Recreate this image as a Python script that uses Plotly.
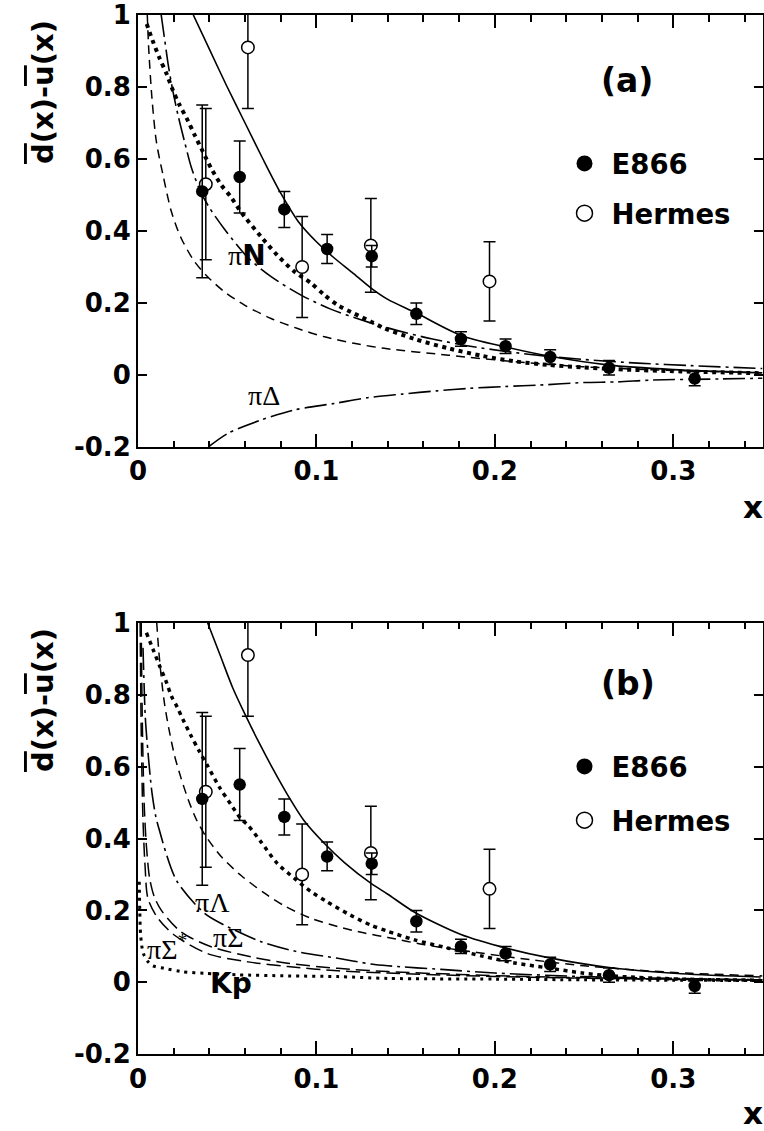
import plotly.graph_objects as go

# ---------------- data ----------------
e866_x = [0.036, 0.057, 0.082, 0.106, 0.131, 0.156, 0.181, 0.206, 0.231, 0.264, 0.312]
e866_y = [0.51, 0.55, 0.46, 0.35, 0.33, 0.17, 0.10, 0.08, 0.05, 0.02, -0.01]
e866_err = [0.24, 0.10, 0.05, 0.04, 0.03, 0.03, 0.02, 0.02, 0.02, 0.02, 0.02]

hermes_x = [0.038, 0.0616, 0.092, 0.1305, 0.197]
hermes_y = [0.53, 0.91, 0.30, 0.36, 0.26]
hermes_err = [0.21, 0.17, 0.14, 0.13, 0.11]

# panel (a) curves
a_solid_x = [0.031, 0.040, 0.050, 0.060, 0.070, 0.080, 0.090, 0.100, 0.110, 0.120, 0.131, 0.140,
             0.156, 0.181, 0.206, 0.231, 0.263, 0.30, 0.35]
a_solid_y = [1.0, 0.905, 0.80, 0.70, 0.60, 0.505, 0.425, 0.37, 0.325, 0.285, 0.24, 0.21,
             0.172, 0.11, 0.078, 0.052, 0.028, 0.015, 0.006]

a_dot_x = [0.0049, 0.0084, 0.0121, 0.0159, 0.0196, 0.0233, 0.028, 0.0317, 0.0364, 0.041, 0.0466,
           0.052, 0.057, 0.0597, 0.069, 0.078, 0.0877, 0.097, 0.1045, 0.112, 0.121, 0.1306, 0.138,
           0.155, 0.174, 0.193, 0.211, 0.23, 0.249, 0.268, 0.3045, 0.349]
a_dot_y = [0.975, 0.926, 0.88, 0.838, 0.79, 0.75, 0.706, 0.667, 0.62, 0.574, 0.528,
           0.495, 0.458, 0.44, 0.384, 0.333, 0.287, 0.255, 0.222, 0.194, 0.171, 0.148, 0.13,
           0.10, 0.074, 0.053, 0.038, 0.028, 0.021, 0.016, 0.010, 0.005]

a_dashdot_x = [0.013, 0.015, 0.017, 0.0195, 0.0225, 0.026, 0.030, 0.035, 0.040, 0.0485, 0.0616,
               0.0746, 0.0914, 0.108, 0.127, 0.145, 0.165, 0.19, 0.22, 0.25, 0.28, 0.31, 0.35]
a_dashdot_y = [1.0, 0.93, 0.86, 0.79, 0.72, 0.65, 0.575, 0.51, 0.465, 0.405, 0.326,
               0.273, 0.222, 0.183, 0.15, 0.124, 0.10, 0.077, 0.057, 0.043, 0.033, 0.026, 0.018]

a_dash_x = [0.0052, 0.006, 0.0078, 0.0103, 0.014, 0.0187, 0.0242, 0.0317, 0.039, 0.0485, 0.0597,
            0.0746, 0.0895, 0.1045, 0.121, 0.138, 0.174, 0.211, 0.249, 0.286, 0.349]
a_dash_y = [1.0, 0.907, 0.77, 0.648, 0.556, 0.454, 0.38, 0.315, 0.273, 0.231, 0.194,
            0.157, 0.129, 0.106, 0.088, 0.074, 0.055, 0.037, 0.023, 0.015, 0.006]

a_pidelta_x = [0.0394, 0.0504, 0.069, 0.0877, 0.110, 0.1287, 0.148, 0.1674, 0.186, 0.2056, 0.225,
               0.2495, 0.269, 0.288, 0.326, 0.35]
a_pidelta_y = [-0.2, -0.162, -0.125, -0.097, -0.079, -0.063, -0.053, -0.044, -0.037, -0.032, -0.028,
               -0.021, -0.019, -0.014, -0.011, -0.009]

# panel (b) curves
b_solid_x = [0.039, 0.046, 0.053, 0.060, 0.068, 0.076, 0.084, 0.093, 0.1045, 0.1157, 0.1306, 0.14,
             0.155, 0.181, 0.2065, 0.2306, 0.263, 0.3045, 0.349]
b_solid_y = [1.0, 0.91, 0.82, 0.745, 0.665, 0.59, 0.52, 0.45, 0.386, 0.333, 0.275, 0.245,
             0.195, 0.133, 0.095, 0.068, 0.042, 0.024, 0.015]

b_dot_x = [0.0047, 0.0084, 0.0121, 0.0159, 0.0187, 0.022, 0.0252, 0.0298, 0.0341, 0.039, 0.0457,
           0.052, 0.0578, 0.0616, 0.069, 0.078, 0.0877, 0.097, 0.106, 0.119, 0.1306, 0.14, 0.155,
           0.174, 0.193, 0.211, 0.23, 0.249, 0.268, 0.3045, 0.349]
b_dot_y = [0.972, 0.926, 0.88, 0.835, 0.796, 0.765, 0.731, 0.685, 0.645, 0.602, 0.542,
           0.495, 0.454, 0.437, 0.39, 0.331, 0.289, 0.252, 0.224, 0.187, 0.159, 0.142, 0.118,
           0.095, 0.073, 0.054, 0.040, 0.026, 0.017, 0.009, 0.006]

b_dash_x = [0.0105, 0.0115, 0.013, 0.015, 0.0175, 0.0205, 0.024, 0.028, 0.0325, 0.0375, 0.0466,
            0.0578, 0.0709, 0.082, 0.097, 0.112, 0.127, 0.14, 0.16, 0.19, 0.22, 0.25, 0.28, 0.31, 0.35]
b_dash_y = [1.0, 0.93, 0.85, 0.77, 0.70, 0.63, 0.57, 0.51, 0.455, 0.41, 0.35,
            0.297, 0.248, 0.213, 0.178, 0.155, 0.137, 0.125, 0.105, 0.083, 0.063, 0.046, 0.034, 0.025, 0.018]

b_pilambda_x = [0.0028, 0.0034, 0.0041, 0.0056, 0.0078, 0.0097, 0.0112, 0.0215, 0.0373, 0.0485, 0.069,
                0.0877, 0.112, 0.1306, 0.14, 0.17, 0.2, 0.25, 0.3, 0.35]
b_pilambda_y = [0.93, 0.829, 0.736, 0.639, 0.528, 0.468, 0.437, 0.284, 0.192, 0.159, 0.113,
                0.087, 0.067, 0.051, 0.046, 0.036, 0.026, 0.016, 0.011, 0.007]

b_pisigma_x = [0.0018, 0.0022, 0.0028, 0.0036, 0.0047, 0.0065, 0.009, 0.0131, 0.0242, 0.041, 0.0634,
               0.0839, 0.112, 0.14, 0.18, 0.22, 0.26, 0.30, 0.35]
b_pisigma_y = [1.0, 0.8, 0.62, 0.48, 0.38, 0.29, 0.24, 0.2, 0.14, 0.099, 0.071,
               0.053, 0.039, 0.030, 0.022, 0.016, 0.012, 0.009, 0.007]

b_pisigmastar_x = [0.0012, 0.0018, 0.0028, 0.004, 0.0056, 0.0112, 0.0205, 0.039, 0.0616, 0.0839,
                   0.112, 0.14, 0.18, 0.22, 0.26, 0.30, 0.35]
b_pisigmastar_y = [1.0, 0.7, 0.45, 0.32, 0.233, 0.178, 0.131, 0.08, 0.057, 0.044,
                   0.032, 0.026, 0.019, 0.014, 0.011, 0.008, 0.006]

b_kp_x = [0.0007, 0.001, 0.0015, 0.003, 0.006, 0.0084, 0.0149, 0.0242, 0.0373, 0.056, 0.084, 0.112,
          0.14, 0.2, 0.25, 0.3, 0.35]
b_kp_y = [0.28, 0.2, 0.13, 0.08, 0.055, 0.046, 0.039, 0.030, 0.025, 0.021, 0.018, 0.016,
          0.011, 0.009, 0.007, 0.006, 0.005]

x_tickvals = [0, 0.1, 0.2, 0.3]
x_ticktext = ["0", "0.1", "0.2", "0.3"]
y_tickvals = [-0.2, 0, 0.2, 0.4, 0.6, 0.8, 1.0]
y_ticktext = ["-0.2", "0", "0.2", "0.4", "0.6", "0.8", "1"]

# ---------------- figure ----------------
SANS = "DejaVu Sans"
SERIF = "Liberation Serif"
fig = go.Figure()

def curve(x, y, dash, width, xa, ya):
    fig.add_trace(go.Scatter(x=x, y=y, mode="lines", xaxis=xa, yaxis=ya, showlegend=False,
                             line=dict(color="black", width=width, dash=dash,
                                       shape="spline", smoothing=0.8),
                             hoverinfo="skip"))

DOT_BIG = "4px,4.5px"
DOT_SMALL = "3px,5px"
DASH = "9px,6px"
DASHDOT = "22px,5px,3px,5px"
LONGDASH = "14px,6px"

# panel (a)
curve(a_dash_x, a_dash_y, DASH, 1.5, "x", "y")
curve(a_dashdot_x, a_dashdot_y, DASHDOT, 1.6, "x", "y")
curve(a_pidelta_x, a_pidelta_y, DASHDOT, 1.6, "x", "y")
curve(a_dot_x, a_dot_y, DOT_BIG, 4, "x", "y")
curve(a_solid_x, a_solid_y, "solid", 1.6, "x", "y")

# panel (b)
curve(b_kp_x, b_kp_y, DOT_SMALL, 3, "x2", "y2")
curve(b_pisigmastar_x, b_pisigmastar_y, LONGDASH, 1.5, "x2", "y2")
curve(b_pisigma_x, b_pisigma_y, LONGDASH, 1.5, "x2", "y2")
curve(b_pilambda_x, b_pilambda_y, DASHDOT, 1.6, "x2", "y2")
curve(b_dash_x, b_dash_y, DASH, 1.5, "x2", "y2")
curve(b_dot_x, b_dot_y, DOT_BIG, 3.5, "x2", "y2")
curve(b_solid_x, b_solid_y, "solid", 1.6, "x2", "y2")

hermes_marker = dict(symbol="circle", size=12.5, color="white", line=dict(color="black", width=1.5))
e866_marker = dict(symbol="circle", size=12.5, color="black")

for xa, ya, lg in [("x", "y", "legend"), ("x2", "y2", "legend2")]:
    fig.add_trace(go.Scatter(x=hermes_x, y=hermes_y, mode="markers", showlegend=False,
                             xaxis=xa, yaxis=ya, marker=hermes_marker,
                             error_y=dict(type="data", array=hermes_err, color="black",
                                          thickness=1.5, width=6)))
    fig.add_trace(go.Scatter(x=e866_x, y=e866_y, mode="markers", showlegend=False,
                             xaxis=xa, yaxis=ya, marker=e866_marker,
                             error_y=dict(type="data", array=e866_err, color="black",
                                          thickness=1.5, width=6)))
    # legend entries (larger symbols, no data)
    fig.add_trace(go.Scatter(x=[None], y=[None], mode="markers", name="E866",
                             xaxis=xa, yaxis=ya, legend=lg, legendrank=1, legendgroup=lg + "e",
                             marker=dict(e866_marker, size=18)))
    fig.add_trace(go.Scatter(x=[None], y=[None], mode="markers", name="Hermes",
                             xaxis=xa, yaxis=ya, legend=lg, legendrank=2, legendgroup=lg + "h",
                             marker=dict(hermes_marker, size=18)))

tickfont = dict(family=SANS, size=26, color="black", weight="bold")

def xaxis(domain, anchor):
    return dict(domain=domain, anchor=anchor, range=[0, 0.35], showgrid=False, zeroline=False,
                automargin=False,
                showline=True, linewidth=2, linecolor="black", mirror="ticks",
                ticks="inside", ticklen=13, tickwidth=1.5, tickcolor="black",
                tickvals=x_tickvals, ticktext=x_ticktext, tickfont=tickfont,
                minor=dict(dtick=0.02, tick0=0, ticks="inside", ticklen=6.5, tickwidth=1.5,
                           tickcolor="black", showgrid=False))

def yaxis(domain, anchor):
    return dict(domain=domain, anchor=anchor, range=[-0.2, 1.0], showgrid=False, zeroline=False,
                automargin=False,
                showline=True, linewidth=2, linecolor="black", mirror="ticks",
                ticks="inside", ticklen=9, tickwidth=1.5, tickcolor="black",
                tickvals=y_tickvals, ticktext=y_ticktext, tickfont=tickfont)

W, H = 764, 1131
xd = [138 / W, 762.5 / W]
yd_a = [(H - 447) / H, (H - 15) / H]
yd_b = [(H - 1054.3) / H, (H - 622.7) / H]

legfont = dict(family=SANS, size=27.5, color="black", weight="bold")
leg = dict(font=legfont, bgcolor="rgba(0,0,0,0)", borderwidth=0, xanchor="left", yanchor="top",
           itemsizing="trace", traceorder="grouped", itemwidth=44)

ytitle = ('<span style="text-decoration:overline">d</span>(x)-'
          '<span style="text-decoration:overline">u</span>(x)')

def ann(text, x, y, xref, yref, size, family=SANS, bold=True, angle=0):
    return dict(text=text, x=x, y=y, xref=xref, yref=yref, showarrow=False, textangle=angle,
                font=dict(family=family, size=size, color="black",
                          weight="bold" if bold else "normal"),
                xanchor="center", yanchor="middle")

def greek(g, rest_bold=""):
    s = '<span style="font-family:Liberation Serif;font-weight:normal">' + g + '</span>'
    if rest_bold:
        s += rest_bold
    return s

annotations = [
    ann(ytitle, 43 / W, 1 - 92 / H, "paper", "paper", 29, angle=-90),
    ann(ytitle, 43 / W, 1 - 700 / H, "paper", "paper", 29, angle=-90),
    ann("x", 753 / W, 1 - 507 / H, "paper", "paper", 31),
    ann("x", 753 / W, 1 - 1113 / H, "paper", "paper", 31),
    ann("(a)", 0.274, 0.817, "x", "y", 33),
    ann("(b)", 0.2748, 0.83, "x2", "y2", 33),
    ann(greek("π", "N"), 0.061, 0.333, "x", "y", 28),
    ann("πΔ", 0.0705, -0.058, "x", "y", 28, family=SERIF, bold=False),
    ann("πΛ", 0.042, 0.221, "x2", "y2", 28, family=SERIF, bold=False),
    ann("πΣ", 0.0504, 0.124, "x2", "y2", 28, family=SERIF, bold=False),
    ann("πΣ<sup>*</sup>", 0.016, 0.097, "x2", "y2", 28, family=SERIF, bold=False),
    ann("Kp", 0.052, -0.004, "x2", "y2", 28),
]

fig.update_layout(
    template="none",
    width=W, height=H, margin=dict(l=0, r=0, t=0, b=0, pad=0, autoexpand=False),
    paper_bgcolor="white", plot_bgcolor="white",
    xaxis=xaxis(xd, "y"), yaxis=yaxis(yd_a, "x"),
    xaxis2=xaxis(xd, "y2"), yaxis2=yaxis(yd_b, "x2"),
    legend=dict(leg, x=557.5 / W, y=1 - 139 / H, tracegroupgap=11),
    legend2=dict(leg, x=557.5 / W, y=1 - 742 / H, tracegroupgap=15),
    annotations=annotations,
    showlegend=True,
)

fig.write_html("out.html", config={"displayModeBar": False},
               post_script="document.body.style.margin='0';document.body.style.overflow='hidden';")
